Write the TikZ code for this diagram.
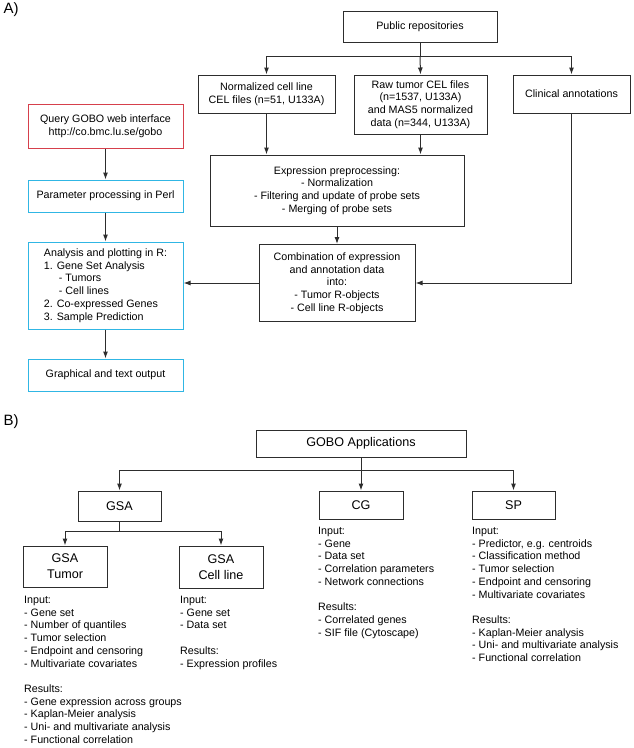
\documentclass[tikz,border=0pt]{standalone}
\usepackage{fontspec}
\setmainfont{Liberation Sans}
\usetikzlibrary{arrows.meta}
\definecolor{queryred}{RGB}{214,64,76}
\definecolor{procblue}{RGB}{48,182,228}
\definecolor{linegray}{RGB}{45,45,45}

\begin{document}
\begin{tikzpicture}[x=1pt,y=-1pt,
    box/.style={draw=linegray, line width=1pt, align=center, inner sep=2pt, font=\fontsize{10.7}{12.7}\selectfont},
    redbox/.style={box, draw=queryred},
    bluebox/.style={box, draw=procblue},
    bigbox/.style={box, font=\fontsize{12.6}{16}\selectfont},
    arr/.style={draw=linegray, line width=1pt, -{Latex[length=7pt,width=5pt]}},
    lst/.style={anchor=north west, align=left, inner sep=0pt, font=\fontsize{10.7}{12.7}\selectfont}]

            \useasboundingbox (0,0) rectangle (633,748);

            % panel A
            \node[font=\fontsize{15}{18}\selectfont] (labA) at (11,10) {A)};

            \node[box, minimum width=154, minimum height=31] (pub) at (420,26.5) {Public repositories};
            \node[box, minimum width=137, minimum height=38] (norm) at (266.5,94) {Normalized cell line\\CEL files (n=51, U133A)};
            \node[box, minimum width=133, minimum height=59] (raw) at (420.5,104.5) {Raw tumor CEL files\\(n=1537, U133A)\\and MAS5 normalized\\data (n=344, U133A)};
            \node[box, minimum width=117, minimum height=38] (clin) at (571.5,94) {Clinical annotations};
            \node[box, minimum width=254, minimum height=71] (expr) at (337,190.5) {Expression preprocessing:\\- Normalization\\- Filtering and update of probe sets\\- Merging of probe sets};
            \node[box, minimum width=156, minimum height=77] (comb) at (337,283) {Combination of expression\\and annotation data\\into:\\- Tumor R-objects\\- Cell line R-objects};

            \node[redbox, minimum width=155, minimum height=44] (query) at (105.5,126) {Query GOBO web interface\\http://co.bmc.lu.se/gobo};
            \node[bluebox, minimum width=155, minimum height=32] (param) at (105.5,196) {Parameter processing in Perl};
            \node[bluebox, minimum width=155, minimum height=87, align=left] (anal) at (105.5,285.5) {Analysis and plotting in R:\\1. Gene Set Analysis\\\hspace*{15pt}- Tumors\\\hspace*{15pt}- Cell lines\\2. Co-expressed Genes\\3. Sample Prediction};
            \node[bluebox, minimum width=155, minimum height=32] (graph) at (105.5,375) {Graphical and text output};

            \coordinate (repsplit) at (420,56);
            \draw[draw=linegray, line width=1pt] (pub.south) -- (repsplit);
            \draw[arr] (repsplit) -| (norm.north);
            \draw[arr] (repsplit) -| (clin.north);
            \draw[arr] (repsplit) -- (raw.north);
            \draw[arr] (norm.south) -- (norm.south |- expr.north);
            \draw[arr] (raw.south) -- (raw.south |- expr.north);
            \draw[arr] (expr.south) -- (comb.north);
            \draw[arr] (clin.south) |- (comb.east);
            \draw[arr] (comb.west) -- (comb.west -| anal.east);
            \draw[arr] (query) -- (param);
            \draw[arr] (param) -- (anal);
            \draw[arr] (anal) -- (graph);

            % panel B
            \node[font=\fontsize{15}{18}\selectfont] (labB) at (11,422) {B)};

            \node[bigbox, minimum width=210, minimum height=27] (gobo) at (361,443.5) {GOBO Applications};
            \node[bigbox, minimum width=83, minimum height=30] (gsa) at (119.5,506) {GSA};
            \node[bigbox, minimum width=84, minimum height=28] (cg) at (361,505) {CG};
            \node[bigbox, minimum width=83, minimum height=28] (sp) at (513.5,505) {SP};
            \node[bigbox, minimum width=84, minimum height=41] (gsat) at (65,566.5) {GSA\\Tumor};
            \node[bigbox, minimum width=84, minimum height=42] (gsac) at (221,567) {GSA\\Cell line};

            \coordinate (appsplit) at (361,470);
            \coordinate (gsasplit) at (119.5,531);
            \draw[arr] (gobo.south) -- (cg.north);
            \draw[arr] (appsplit) -| (gsa.north);
            \draw[arr] (appsplit) -| (sp.north);
            \draw[draw=linegray, line width=1pt] (gsa.south) -- (gsasplit);
            \draw[arr] (gsasplit) -| (gsat.north);
            \draw[arr] (gsasplit) -| (gsac.north);

            \node[lst] (gsatlst) at (24,596) {Input:\\- Gene set\\- Number of quantiles\\- Tumor selection\\- Endpoint and censoring\\- Multivariate covariates\\[12.7pt]Results:\\- Gene expression across groups\\- Kaplan-Meier analysis\\- Uni- and multivariate analysis\\- Functional correlation};
            \node[lst] (gsaclst) at (180,596) {Input:\\- Gene set\\- Data set\\[12.7pt]Results:\\- Expression profiles};
            \node[lst] (cglst) at (318,527) {Input:\\- Gene\\- Data set\\- Correlation parameters\\- Network connections\\[12.7pt]Results:\\- Correlated genes\\- SIF file (Cytoscape)};
            \node[lst] (splst) at (472,527) {Input:\\- Predictor, e.g. centroids\\- Classification method\\- Tumor selection\\- Endpoint and censoring\\- Multivariate covariates\\[12.7pt]Results:\\- Kaplan-Meier analysis\\- Uni- and multivariate analysis\\- Functional correlation};

        \end{tikzpicture}
\end{document}
